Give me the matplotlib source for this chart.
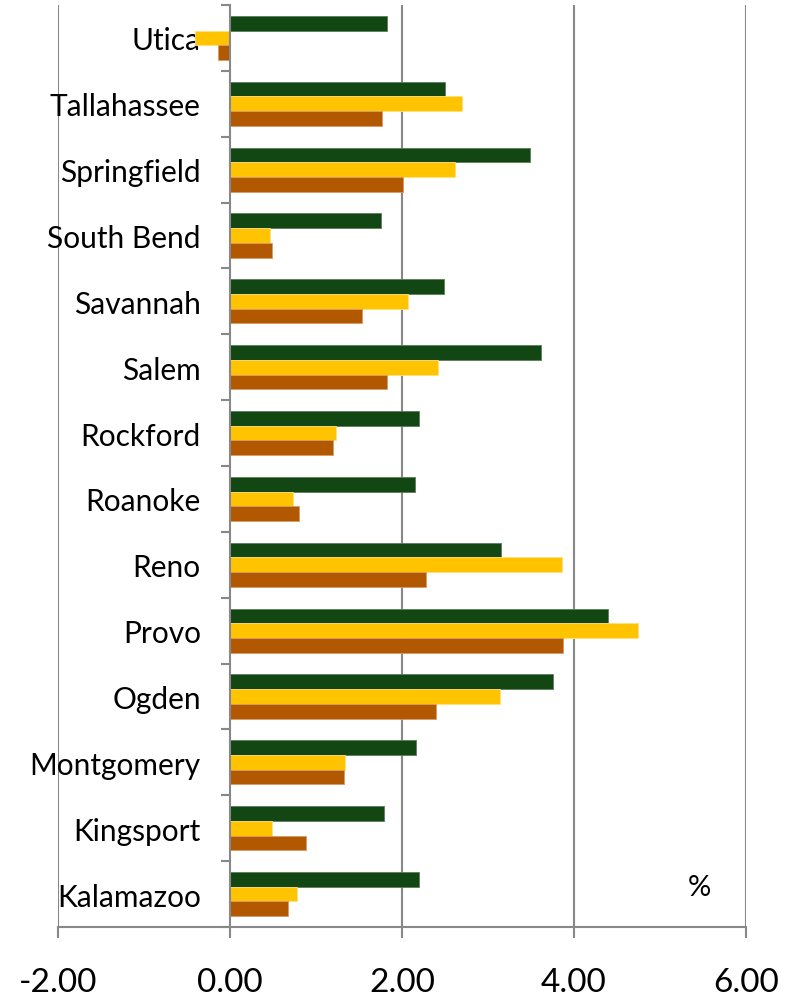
import numpy as np
import matplotlib
matplotlib.use("Agg")
import matplotlib.pyplot as plt
from matplotlib.ticker import FixedLocator

plt.rcParams['font.family'] = ['Lato', 'DejaVu Sans']

# cities, top of chart first
cities = ['Utica', 'Tallahassee', 'Springfield', 'South Bend', 'Savannah', 'Salem',
          'Rockford', 'Roanoke', 'Reno', 'Provo', 'Ogden', 'Montgomery',
          'Kingsport', 'Kalamazoo']

# three series per city (percent), same order as cities
green_vals = [1.82, 2.50, 3.49, 1.76, 2.49, 3.62, 2.20, 2.15, 3.15, 4.39, 3.76, 2.16, 1.79, 2.20]
yellow_vals = [-0.41, 2.70, 2.62, 0.47, 2.07, 2.42, 1.23, 0.73, 3.86, 4.74, 3.14, 1.34, 0.49, 0.78]
brown_vals = [-0.14, 1.77, 2.01, 0.49, 1.53, 1.83, 1.20, 0.80, 2.28, 3.87, 2.40, 1.32, 0.88, 0.68]

x_ticks = [-2, 0, 2, 4, 6]
x_ticklabels = ['-2.00', '0.00', '2.00', '4.00', '6.00']

GREEN = '#124612'
YELLOW = '#FFC300'
BROWN = '#B15800'
GRID = '#888888'

fig = plt.figure(figsize=(7.94, 10.03), dpi=100)
ax = fig.add_axes([58/794, 1 - 928/1003, (746-58)/794, (928-6)/1003])

n = len(cities)
pos = np.arange(n)[::-1]          # Utica at the top
h = 0.223

ax.barh(pos + h, green_vals, height=h, color=GREEN, edgecolor='#5a7d5a', linewidth=0.6, zorder=3)
ax.barh(pos, yellow_vals, height=h, color=YELLOW, edgecolor='#ffe07a', linewidth=0.6, zorder=3)
ax.barh(pos - h, brown_vals, height=h, color=BROWN, edgecolor='#d89a66', linewidth=0.6, zorder=3)

ax.set_xlim(-2, 6)
ax.set_ylim(-0.5, n - 0.5)

# vertical gridlines (the one at -2 acts as left frame)
for xv in [-2, 2, 4, 6]:
    ax.axvline(xv, color=GRID, lw=1.5, zorder=1)

for s in ['top', 'right']:
    ax.spines[s].set_visible(False)
ax.spines['left'].set_position(('data', 0))
ax.spines['left'].set_color(GRID)
ax.spines['left'].set_linewidth(1.5)
ax.spines['left'].set_zorder(4)
ax.spines['bottom'].set_color(GRID)
ax.spines['bottom'].set_linewidth(1.5)

ax.set_xticks(x_ticks)
ax.set_xticklabels(x_ticklabels, fontsize=24)
ax.tick_params(axis='x', direction='out', length=8, width=1.5, color=GRID, pad=21)

ax.set_yticks(pos)
ax.set_yticklabels(cities, fontsize=21.5)
ax.tick_params(axis='y', which='major', length=0, pad=21)
ax.yaxis.set_minor_locator(FixedLocator(np.arange(-0.5, n, 1.0)))
ax.tick_params(axis='y', which='minor', direction='out', length=6.5, width=1.5, color=GRID)

ax.text(699/794, 1 - 888/1003, '%', transform=fig.transFigure, fontsize=21,
        ha='center', va='center')

fig.savefig('out.png', dpi=100)
